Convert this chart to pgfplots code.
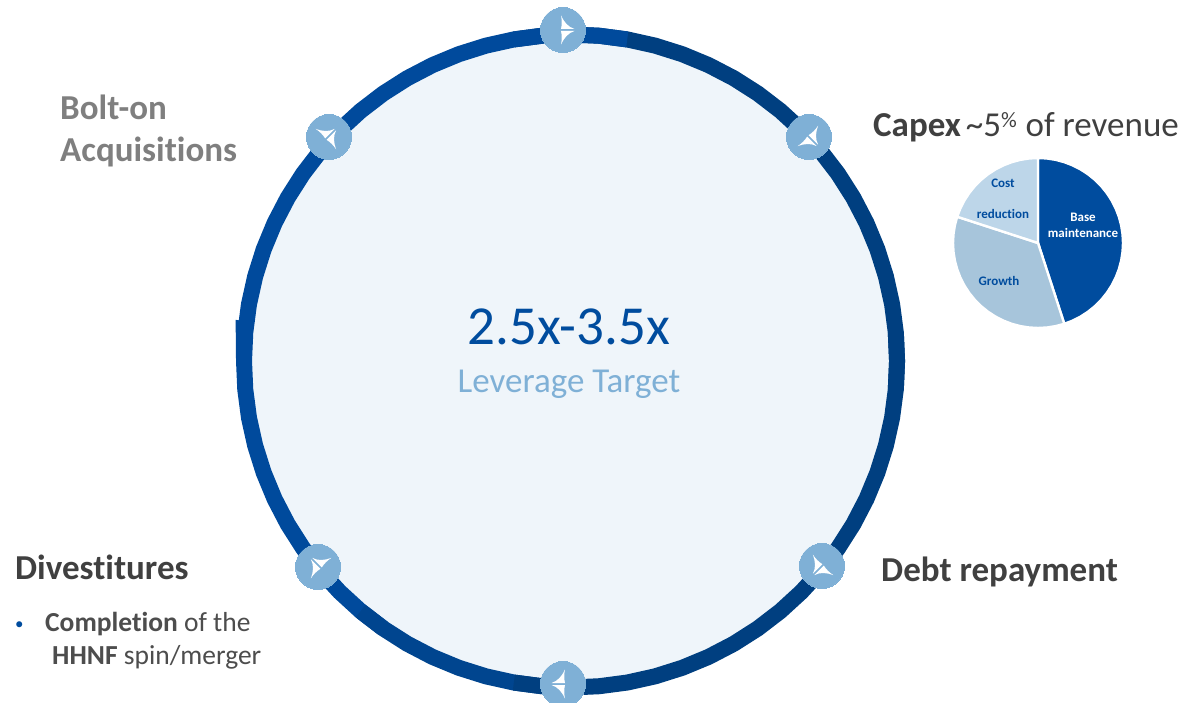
\documentclass[border=0pt]{standalone}
\usepackage{pgfplots}
\usepackage{pgfplotstable}
\usepackage{fontspec}
\setmainfont{Carlito}[Ligatures={NoCommon}]
\pgfplotsset{compat=1.18}

\definecolor{ringblue}{HTML}{004A9C}
\definecolor{ringdark}{HTML}{003F80}
\definecolor{ringmid}{HTML}{00458F}
\definecolor{discfill}{HTML}{EFF5FA}
\definecolor{nodeblue}{HTML}{7FB0D6}
\definecolor{pieA}{HTML}{004C9E}
\definecolor{pieB}{HTML}{A7C5DB}
\definecolor{pieC}{HTML}{BDD6E9}
\definecolor{greyhead}{HTML}{7F7F7F}
\definecolor{darkhead}{HTML}{404040}
\definecolor{bodytext}{HTML}{4D4D4D}
\definecolor{targetblue}{HTML}{7FB0D6}

% dart glyph shown inside each waypoint, tip along +x, with concave flanks
\pgfdeclareplotmark{dart}{%
  \pgfpathmoveto{\pgfqpoint{-3pt}{14.5pt}}%
  \pgfpathcurveto{\pgfqpoint{0pt}{8pt}}{\pgfqpoint{4pt}{3pt}}{\pgfqpoint{10.5pt}{1pt}}%
  \pgfpathlineto{\pgfqpoint{-3pt}{1pt}}%
  \pgfpathcurveto{\pgfqpoint{-2pt}{5pt}}{\pgfqpoint{-2pt}{10pt}}{\pgfqpoint{-3pt}{14.5pt}}%
  \pgfpathclose
  \pgfpathmoveto{\pgfqpoint{-3pt}{-14.5pt}}%
  \pgfpathcurveto{\pgfqpoint{0pt}{-8pt}}{\pgfqpoint{4pt}{-3pt}}{\pgfqpoint{10.5pt}{-1pt}}%
  \pgfpathlineto{\pgfqpoint{-3pt}{-1pt}}%
  \pgfpathcurveto{\pgfqpoint{-2pt}{-5pt}}{\pgfqpoint{-2pt}{-10pt}}{\pgfqpoint{-3pt}{-14.5pt}}%
  \pgfpathclose
  \pgfusepathqfill
}

% ring centre line: angle in degrees, radius in px; runs a little past a full turn
\pgfplotstableread{
a r
-5 326.5
0 326.5
5 326.5
10 326.5
15 326.5
20 326.5
25 326.5
30 326.5
35 326.5
40 326.5
45 326.5
50 326.5
55 326.5
60 326.5
65 326.5
70 326.5
75 326.5
80 326.5
85 326.5
90 326.5
95 326.5
100 326.5
105 326.5
110 326.5
115 326.5
120 326.5
125 326.5
130 326.5
135 326.5
140 326.5
145 326.5
150 326.5
155 326.5
160 326.5
165 326.5
170 326.5
175 326.5
180 326.5
185 326.5
190 326.5
195 326.5
200 326.5
205 326.5
210 326.5
215 326.5
220 326.5
225 326.5
230 326.5
235 326.5
240 326.5
245 326.5
250 326.5
255 326.5
260 326.5
265 326.5
270 326.5
275 326.5
280 326.5
285 326.5
290 326.5
295 326.5
300 326.5
305 326.5
310 326.5
315 326.5
320 326.5
325 326.5
330 326.5
335 326.5
340 326.5
345 326.5
350 326.5
355 326.5
360 326.5
365 326.5
}\ringtable

% capex split: base maintenance 45%, growth 35%, cost reduction 20%
\pgfplotstableread{
a r
0 0
90 85
84 85
78 85
72 85
66 85
60 85
54 85
48 85
42 85
36 85
30 85
24 85
18 85
12 85
6 85
0 85
-6 85
-12 85
-18 85
-24 85
-30 85
-36 85
-42 85
-48 85
-54 85
-60 85
-66 85
-72 85
}\sliceBase
\pgfplotstableread{
a r
0 0
-72 85
-78 85
-84 85
-90 85
-96 85
-102 85
-108 85
-114 85
-120 85
-126 85
-132 85
-138 85
-144 85
-150 85
-156 85
-162 85
-168 85
-174 85
-180 85
-186 85
-192 85
-198 85
}\sliceGrowth
\pgfplotstableread{
a r
0 0
162 85
156 85
150 85
144 85
138 85
132 85
126 85
120 85
114 85
108 85
102 85
96 85
90 85
}\sliceCost

\pgfplotsset{canvas/.style={
  at={(0,0)}, anchor=south west, hide axis, scale only axis,
  width=1195pt, height=703pt}}

\begin{document}
\begin{tikzpicture}[x=1pt,y=1pt]
\path[use as bounding box] (0,0) rectangle (1195,703);

% leverage ring, centred on its own origin
\begin{axis}[canvas, xmin=-570.5, xmax=624.5, ymin=-342, ymax=361]
  \addplot[data cs=polar, draw=none, fill=discfill] table[x=a,y=r] {\ringtable} --cycle;
  \addplot[data cs=polar, draw=ringdark, line width=16pt, line join=round, restrict x to domain=-6:100] table[x=a,y=r] {\ringtable};
  \addplot[data cs=polar, draw=ringblue, line width=16pt, line join=round, restrict x to domain=80:235] table[x=a,y=r] {\ringtable};
  \addplot[data cs=polar, draw=ringmid, line width=16pt, line join=round, restrict x to domain=230:265] table[x=a,y=r] {\ringtable};
  \addplot[data cs=polar, draw=ringdark, line width=16pt, line join=round, restrict x to domain=260:366] table[x=a,y=r] {\ringtable};
  % small step on the outer edge where the ring starts
  \addplot[data cs=polar, fill=ringblue, draw=none] coordinates
    {(173,337.5) (176,335.5) (180,334.5) (180,328) (173,328)} --cycle;
\end{axis}

% capex pie, centred on its own origin
\begin{axis}[canvas, xmin=-1038, xmax=157, ymin=-460, ymax=243]
  \addplot[data cs=polar, fill=pieA, draw=white, line width=2.4pt, line join=miter] table[x=a,y=r] {\sliceBase} --cycle;
  \addplot[data cs=polar, fill=pieB, draw=white, line width=2.4pt, line join=miter] table[x=a,y=r] {\sliceGrowth} --cycle;
  \addplot[data cs=polar, fill=pieC, draw=white, line width=2.4pt, line join=miter] table[x=a,y=r] {\sliceCost} --cycle;
\end{axis}

% waypoints and text, in page coordinates
\begin{axis}[canvas, xmin=0, xmax=1195, ymin=0, ymax=703, y dir=reverse, clip=false]
  \addplot[only marks, color=nodeblue, mark=*, mark size=22.5pt, mark options={fill=nodeblue, draw=nodeblue, line width=0pt}] coordinates
    {(563,30) (329,137) (809,137) (318,567) (822,566) (563,684)};
  \addplot[only marks, color=white, mark=dart, mark options={fill=white, rotate=0}] coordinates {(564,30)};
  \addplot[only marks, color=white, mark=dart, mark options={fill=white, rotate=45}] coordinates {(328,137)};
  \addplot[only marks, color=white, mark=dart, mark options={fill=white, rotate=-45}] coordinates {(810,138)};
  \addplot[only marks, color=white, mark=dart, mark options={fill=white, rotate=135}] coordinates {(319,566)};
  \addplot[only marks, color=white, mark=dart, mark options={fill=white, rotate=-135}] coordinates {(821,567)};
  \addplot[only marks, color=white, mark=dart, mark options={fill=white, rotate=180}] coordinates {(562,684)};

  \node[anchor=base, font=\fontsize{55}{55}\selectfont, text=pieA] at (axis cs:569,345) {2.5x-3.5x};
  \node[anchor=base, font=\fontsize{35}{35}\selectfont, text=targetblue] at (axis cs:569,392) {Leverage Target};

  \node[anchor=base west, inner sep=0pt, font=\fontsize{35}{35}\selectfont\bfseries, text=greyhead] at (axis cs:60,119.5) {Bolt-on};
  \node[anchor=base west, inner sep=0pt, font=\fontsize{35}{35}\selectfont\bfseries, text=greyhead] at (axis cs:60,161.5) {Acquisitions};

  \node[anchor=base west, inner sep=0pt, font=\fontsize{35}{35}\selectfont, text=darkhead] at (axis cs:873,137) {\textbf{Capex}\kern-3pt\ \textasciitilde5\raisebox{0.55ex}{\fontsize{22}{22}\selectfont\%}\kern1pt\ of revenue};

  \node[anchor=base west, inner sep=0pt, font=\fontsize{35}{35}\selectfont\bfseries, text=darkhead] at (axis cs:15,579.5) {Divestitures};
  \node[anchor=base west, inner sep=0pt, font=\fontsize{35}{35}\selectfont\bfseries, text=darkhead] at (axis cs:881,581) {Debt repayment};

  \node[anchor=base west, inner sep=0pt, font=\fontsize{17}{17}\selectfont, text=pieA] at (axis cs:15,629) {•};
  \node[anchor=base west, inner sep=0pt, font=\fontsize{27.5}{27.5}\selectfont, text=bodytext] at (axis cs:45,631) {\textbf{Completion} of the};
  \node[anchor=base west, inner sep=0pt, font=\fontsize{27.5}{27.5}\selectfont, text=bodytext] at (axis cs:52,664) {\textbf{HHNF} spin/merger};

  \node[anchor=base, inner sep=0pt, font=\fontsize{13}{13}\selectfont\bfseries, text=white] at (axis cs:1083,222) {Base};
  \node[anchor=base, inner sep=0pt, font=\fontsize{13}{13}\selectfont\bfseries, text=white] at (axis cs:1083,238) {maintenance};
  \node[anchor=base, inner sep=0pt, font=\fontsize{13}{13}\selectfont\bfseries, text=pieA] at (axis cs:1003,188) {Cost};
  \node[anchor=base, inner sep=0pt, font=\fontsize{13}{13}\selectfont\bfseries, text=pieA] at (axis cs:1003,219) {reduction};
  \node[anchor=base, inner sep=0pt, font=\fontsize{13}{13}\selectfont\bfseries, text=pieA] at (axis cs:999,286) {Growth};
\end{axis}
\end{tikzpicture}
\end{document}
